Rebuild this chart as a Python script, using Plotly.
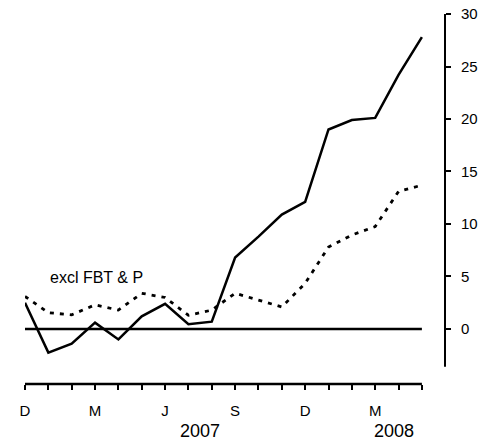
import plotly.graph_objects as go

# monthly, Dec 2006 .. May 2008
months = ['D', 'J', 'F', 'M', 'A', 'M', 'J', 'J', 'A', 'S', 'O', 'N',
          'D', 'J', 'F', 'M', 'A', 'M']
shown = [0, 3, 6, 9, 12, 15]

headline = [2.5, -2.25, -1.4, 0.6, -1.0, 1.2, 2.4, 0.45, 0.7, 6.8,
            8.8, 10.9, 12.1, 19.0, 19.9, 20.1, 24.2, 27.8]
excl_fbt = [3.1, 1.55, 1.35, 2.3, 1.8, 3.4, 3.0, 1.3, 1.8, 3.4,
            2.75, 2.1, 4.35, 7.8, 8.95, 9.75, 13.1, 13.7]

y_ticks = [0, 5, 10, 15, 20, 25, 30]
years = [('2007', 7.5), ('2008', 15.8)]

x = list(range(len(months)))
FONT = 'Liberation Sans, Arial, sans-serif'

fig = go.Figure()

fig.add_trace(go.Scatter(
    x=x, y=excl_fbt, mode='lines',
    line=dict(color='black', width=2.8, dash='4px,6px')
))
fig.add_trace(go.Scatter(
    x=x, y=headline, mode='lines',
    line=dict(color='black', width=2.5)
))

# zero line, x axis line, y axis line
fig.add_shape(type='line', x0=0, x1=17, y0=0, y1=0, xref='x', yref='y',
              line=dict(color='black', width=2.5))
fig.add_shape(type='line', x0=0, x1=17, y0=0, y1=0, xref='x', yref='paper',
              line=dict(color='black', width=2.5))
fig.add_shape(type='line', x0=1, x1=1, y0=-3.6, y1=30, xref='paper', yref='y',
              line=dict(color='black', width=2))

fig.add_annotation(x=1.0, y=4.9, text='excl FBT & P', showarrow=False,
                   xanchor='left', yanchor='middle',
                   font=dict(size=16, color='black', family=FONT))
for label, pos in years:
    fig.add_annotation(x=pos, y=0, yref='paper', yshift=-47, text=label,
                       showarrow=False, xanchor='center', yanchor='middle',
                       font=dict(size=18, color='black', family=FONT))

# page body has an 8px margin, so the figure is 8px smaller than the window
fig.update_layout(
    width=483, height=435,
    margin=dict(l=17, r=46, t=6, b=59, autoexpand=False),
    plot_bgcolor='white', paper_bgcolor='white',
    showlegend=False,
    font=dict(family=FONT, size=15, color='black'),
    xaxis=dict(
        range=[0, 17.99], showgrid=False, zeroline=False, showline=False,
        tickmode='array', tickvals=x,
        ticktext=[months[i] if i in shown else '' for i in x],
        ticks='outside', ticklen=5, tickwidth=2, tickcolor='black',
        ticklabelstandoff=8, tickfont=dict(size=15), automargin=False
    ),
    yaxis=dict(
        range=[-5.24, 30], side='right', showgrid=False, zeroline=False,
        showline=False, tickvals=y_ticks,
        ticks='outside', ticklen=5, tickwidth=2, tickcolor='black',
        ticklabelstandoff=7, ticklabeloverflow='allow',
        tickfont=dict(size=15), automargin=False
    ),
)

fig.write_html('out.html')
